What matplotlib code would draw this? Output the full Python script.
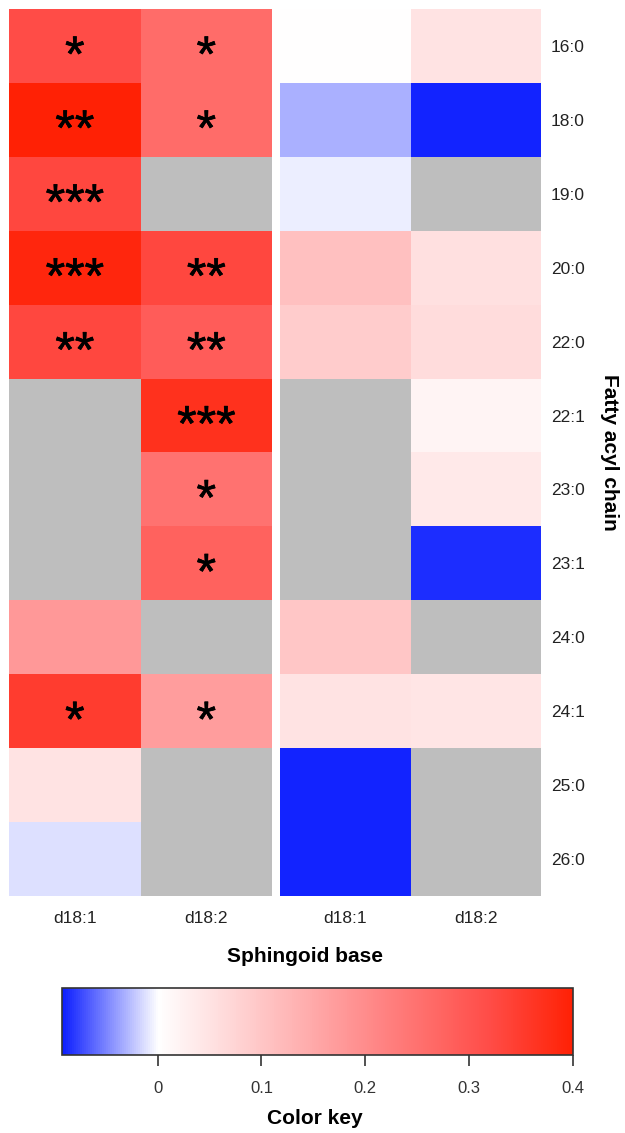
import numpy as np
import matplotlib
matplotlib.use("Agg")
import matplotlib.pyplot as plt
import matplotlib.transforms as mtransforms
import matplotlib.patheffects as pe
from matplotlib.colors import LinearSegmentedColormap, Normalize
from matplotlib.cm import ScalarMappable

plt.rcParams['font.family'] = ['Liberation Sans', 'DejaVu Sans']

chains = ["16:0", "18:0", "19:0", "20:0", "22:0", "22:1",
          "23:0", "23:1", "24:0", "24:1", "25:0", "26:0"]
bases = ["d18:1", "d18:2"]
nan = np.nan

# left block (with significance stars)
left_d181 = [0.32, 0.40, 0.33, 0.39, 0.33, nan, nan, nan, 0.18, 0.35, 0.05, -0.012]
left_d182 = [0.26, 0.26, nan, 0.33, 0.29, 0.37, 0.25, 0.28, nan, 0.17, nan, nan]
left_d181_stars = ["*", "**", "***", "***", "**", "", "", "", "", "*", "", ""]
left_d182_stars = ["*", "*", "", "**", "**", "***", "*", "*", "", "*", "", ""]

# right block
right_d181 = [0.003, -0.031, -0.006, 0.11, 0.09, nan, nan, nan, 0.10, 0.05, -0.09, -0.09]
right_d182 = [0.05, -0.09, nan, 0.055, 0.06, 0.02, 0.04, -0.085, nan, 0.045, nan, nan]

vmin, vmax = -0.092, 0.4
tick_vals = [0, 0.1, 0.2, 0.3, 0.4]

W, H = 625, 1133
fig = plt.figure(figsize=(W / 100, H / 100), dpi=100)

def fbox(x0, y0, x1, y1):
    # pixel box (top-left origin) -> figure fraction rect
    return [x0 / W, 1 - y1 / H, (x1 - x0) / W, (y1 - y0) / H]

zero = (0 - vmin) / (vmax - vmin)
span = 1 - zero
cmap = LinearSegmentedColormap.from_list(
    "bwr_key", [(0.0, (0.05, 0.12, 1.0)),
                (zero, (1, 1, 1)),
                (zero + 0.5 * span, (1.0, 0.55, 0.55)),
                (zero + 0.8 * span, (1.0, 0.30, 0.28)),
                (1.0, (1.0, 0.13, 0.02))])
cmap.set_bad("#bebebe")
norm = Normalize(vmin=vmin, vmax=vmax)

def draw_block(ax, cols, stars=None):
    data = np.ma.masked_invalid(np.array(cols).T)
    ax.pcolormesh(np.arange(len(cols) + 1), np.arange(len(chains) + 1), data,
                  cmap=cmap, norm=norm, shading="flat")
    ax.set_xlim(0, len(cols))
    ax.set_ylim(len(chains), 0)
    for s in ax.spines.values():
        s.set_visible(False)
    ax.set_yticks([])
    ax.set_xticks(np.arange(len(cols)) + 0.5)
    ax.set_xticklabels(bases, fontsize=12.5, color="#222222")
    ax.tick_params(axis="x", length=0, pad=11)
    if stars:
        fs = 36
        tr = mtransforms.offset_copy(ax.transData, fig=fig, y=-0.5 * fs, units="points")
        for j, col in enumerate(stars):
            for i, s in enumerate(col):
                if s:
                    ax.text(j + 0.5, i + 0.5, s, fontsize=fs, ha="center",
                            va="baseline", transform=tr, color="black",
                            path_effects=[pe.withStroke(linewidth=0.5, foreground="black")])

ax_l = fig.add_axes(fbox(9, 9, 272, 896))
draw_block(ax_l, [left_d181, left_d182], [left_d181_stars, left_d182_stars])

ax_r = fig.add_axes(fbox(280, 9, 541, 896))
draw_block(ax_r, [right_d181, right_d182])
ax_r.yaxis.tick_right()
ax_r.set_yticks(np.arange(len(chains)) + 0.5)
ax_r.set_yticklabels(chains, fontsize=12.5, color="#222222")
ax_r.tick_params(axis="y", length=0, pad=7)

fig.text(610 / W, 1 - 452 / H, "Fatty acyl chain", rotation=-90, fontsize=15,
         fontweight="bold", ha="center", va="center")
fig.text(305 / W, 1 - 957 / H, "Sphingoid base", fontsize=15,
         fontweight="bold", ha="center", va="center")

# colour key
ax_c = fig.add_axes(fbox(62, 988, 573, 1055))
cb = fig.colorbar(ScalarMappable(norm=norm, cmap=cmap), cax=ax_c, orientation="horizontal")
cb.set_ticks(tick_vals)
cb.set_ticklabels(["0", "0.1", "0.2", "0.3", "0.4"])
cb.outline.set_edgecolor("#333333")
cb.outline.set_linewidth(1.2)
ax_c.tick_params(axis="x", length=8, width=1.2, color="#333333", labelsize=12,
                 labelcolor="#333333", pad=11)
fig.text(315 / W, 1 - 1118 / H, "Color key", fontsize=15,
         fontweight="bold", ha="center", va="center")

fig.savefig("out.png", dpi=100)
